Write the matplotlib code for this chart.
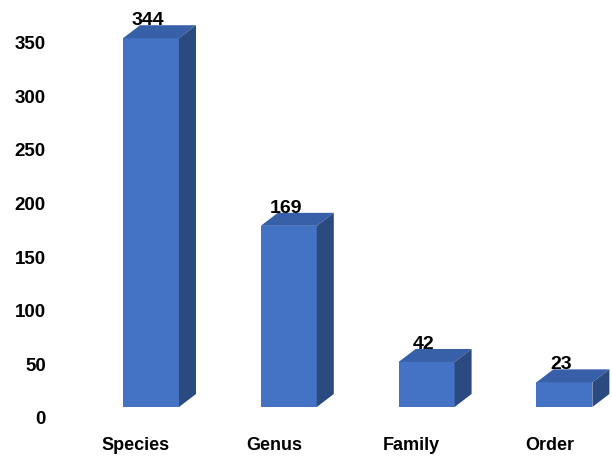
import matplotlib
matplotlib.use("Agg")
import matplotlib.pyplot as plt
import matplotlib.transforms as mtransforms
from matplotlib.patches import Polygon

# data
categories = ["Species", "Genus", "Family", "Order"]
counts = [344, 169, 42, 23]
y_ticks = [0, 50, 100, 150, 200, 250, 300, 350]

# colours of the three faces
FRONT = "#4472C4"
TOP = "#3860A8"
SIDE = "#2B4B80"

plt.rcParams['font.family'] = ['Liberation Sans', 'DejaVu Sans']

fig = plt.figure(figsize=(6.12, 4.59), dpi=100)
W, H = 612.0, 459.0
ax = fig.add_axes([50 / W, 29 / H, 562 / W, 430 / H])

# pixel scale: bar spacing 137.8 px, 1.072 px per unit
px_x = 137.8
px_y = 1.072
ax.set_xlim((50 - 151) / px_x, (612 - 151) / px_x)
ax.set_ylim(-(52 - 29) / px_y, (459 - 52) / px_y)

bar_w = 56 / px_x
dx = 17 / px_x   # depth of the fake 3d box
dy = 13 / px_y

for i, v in enumerate(counts):
    x0 = i - bar_w / 2
    x1 = i + bar_w / 2
    ax.bar(i, v, width=bar_w, color=FRONT, linewidth=0, zorder=3)
    top = Polygon([(x0, v), (x1, v), (x1 + dx, v + dy), (x0 + dx, v + dy)],
                  closed=True, facecolor=TOP, edgecolor='none', zorder=3)
    side = Polygon([(x1, 0), (x1 + dx, dy), (x1 + dx, v + dy), (x1, v)],
                   closed=True, facecolor=SIDE, edgecolor='none', zorder=3)
    ax.add_patch(top)
    ax.add_patch(side)
    ax.text(i - 3 / px_x, v + dy, str(v), ha='center', va='baseline',
            fontsize=14, fontweight='bold', color='black', zorder=4)

ax.set_xticks(range(len(categories)))
ax.set_xticklabels(categories, fontsize=13, fontweight='bold')
ax.set_yticks(y_ticks)
ax.set_yticklabels([str(t) for t in y_ticks], fontsize=13.5, fontweight='bold')
ax.tick_params(axis='both', length=0)
ax.tick_params(axis='y', pad=3)
ax.tick_params(axis='x', pad=5)

# Excel puts the labels a bit off the front faces
y_off = mtransforms.ScaledTranslation(0, -11 / 100.0, fig.dpi_scale_trans)
for lbl in ax.get_yticklabels():
    lbl.set_transform(lbl.get_transform() + y_off)
x_off = mtransforms.ScaledTranslation(-15 / 100.0, 0, fig.dpi_scale_trans)
for lbl in ax.get_xticklabels():
    lbl.set_transform(lbl.get_transform() + x_off)

for s in ax.spines.values():
    s.set_visible(False)

fig.savefig("out.png", dpi=100)
